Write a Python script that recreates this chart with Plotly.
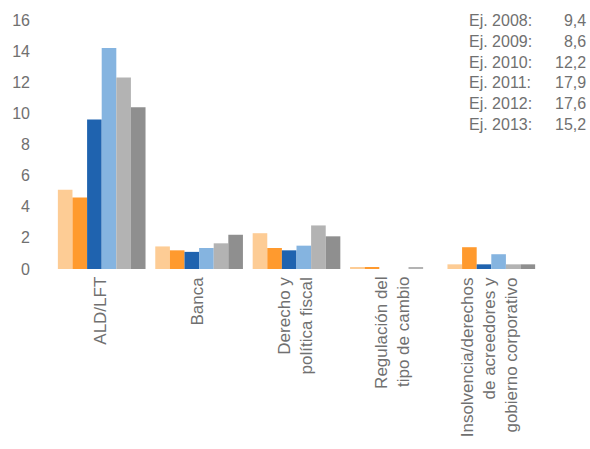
import plotly.graph_objects as go

categories = [
    "ALD/LFT",
    "Banca",
    "Derecho y<br>política fiscal",
    "Regulación del<br>tipo de cambio",
    "Insolvencia/derechos<br>de acreedores y<br>gobierno corporativo",
]
years = ["2008", "2009", "2010", "2011", "2012", "2013"]
values = {
    "2008": [5.1, 1.45, 2.3, 0.1, 0.3],
    "2009": [4.6, 1.2, 1.35, 0.1, 1.4],
    "2010": [9.6, 1.1, 1.2, 0.0, 0.3],
    "2011": [14.2, 1.35, 1.5, 0.0, 0.95],
    "2012": [12.3, 1.65, 2.8, 0.1, 0.3],
    "2013": [10.4, 2.2, 2.1, 0.0, 0.3],
}
totals = ["9,4", "8,6", "12,2", "17,9", "17,6", "15,2"]
colors = ["#FDCC95", "#FF9A2E", "#1F63AF", "#85B4E0", "#B3B3B3", "#8F8F8F"]

font_family = "Liberation Sans, Arial, sans-serif"
gray = "#707070"

W, H = 590, 449
ML, MR, MT, MB = 50, 50, 17, 180
PW, PH = W - ML - MR, H - MT - MB


def px_x(x):
    return (x - ML) / PW


def px_y(y):
    return (H - MB - y) / PH


fig = go.Figure()
idx = list(range(len(categories)))
for y, c in zip(years, colors):
    fig.add_trace(go.Bar(x=idx, y=values[y], name="Ej. " + y,
                         marker=dict(color=c, line=dict(width=0))))

fig.update_layout(
    width=W, height=H,
    margin=dict(l=ML, r=MR, t=MT, b=MB),
    barmode="group", bargap=0.1, bargroupgap=0,
    plot_bgcolor="white", paper_bgcolor="white",
    showlegend=False,
    font=dict(family=font_family, size=16, color=gray),
)
fig.update_yaxes(range=[0, 16], dtick=2, showgrid=False, zeroline=False,
                 showline=False, ticks="", ticklabelstandoff=22,
                 tickfont=dict(size=16, color=gray))
fig.update_xaxes(range=[-0.5, len(categories) - 0.5], showgrid=False,
                 showline=False, ticks="", showticklabels=False)

# category labels: rotated, block centred on the category
for i, lab in enumerate(categories):
    fig.add_annotation(x=i, y=0, xref="x", yref="paper", text=lab,
                       textangle=-90, showarrow=False, xanchor="center",
                       yanchor="top", align="right", xshift=-2, yshift=-7,
                       borderpad=0, font=dict(size=17, color=gray))

# yearly totals box, top right
labels = "<br>".join("Ej. %s:" % y for y in years)
vals = "<br>".join(totals)
fig.add_annotation(x=px_x(468), y=px_y(8), xref="paper", yref="paper",
                   text=labels, showarrow=False, xanchor="left",
                   yanchor="top", align="left", borderpad=0,
                   font=dict(size=16, color=gray))
fig.add_annotation(x=px_x(587), y=px_y(8), xref="paper", yref="paper",
                   text=vals, showarrow=False, xanchor="right",
                   yanchor="top", align="right", borderpad=0,
                   font=dict(size=16, color=gray))

fig.write_html("out.html")
